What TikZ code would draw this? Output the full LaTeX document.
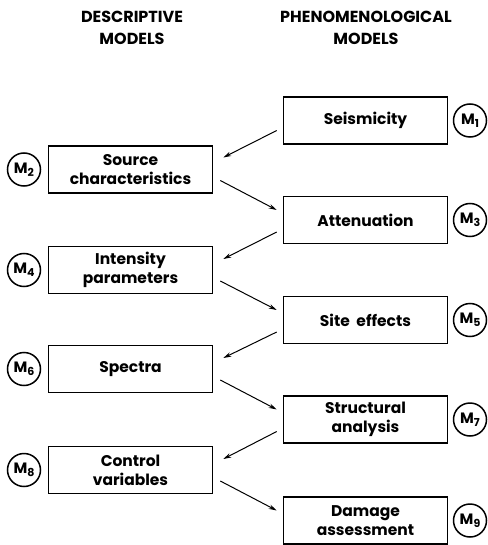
\documentclass[tikz,border=0pt]{standalone}
\usepackage{fontspec}
\setmainfont{Poppins}
\usetikzlibrary{arrows.meta,calc}
\tikzset{
  modelbox/.style={draw, line width=1.6pt, minimum width=164pt, minimum height=47pt, inner sep=0pt, align=center, font=\fontsize{15.5}{19}\selectfont\bfseries},
  tag/.style={draw, circle, line width=1.5pt, minimum size=33pt, inner sep=0pt, font=\fontsize{15}{16}\selectfont\bfseries},
  head/.style={align=center, font=\fontsize{16}{22}\selectfont\bfseries},
  flow/.style={line width=1pt, -{Stealth[length=8pt,width=4.5pt]}}
}
\newcommand{\mtag}[1]{M\raisebox{-0.2em}{\fontsize{11}{11}\selectfont\bfseries #1}}
\begin{document}
\begin{tikzpicture}[x=1pt,y=-1pt]
\useasboundingbox (0,0) rectangle (487,545);
\node[head] (hd) at (132,28) {DESCRIPTIVE\\MODELS};
\node[head] (hp) at (366,28) {PHENOMENOLOGICAL\\MODELS};

\node[modelbox] (r1) at (365.5,120.5) {Seismicity};
\node[modelbox] (r2) at (365.5,220) {Attenuation};
\node[modelbox] (r3) at (365.5,320) {Site\ \ effects};
\node[modelbox] (r4) at (365.5,419.5) {Structural\\analysis};
\node[modelbox] (r5) at (365.5,520.5) {Damage\\assessment};

\node[modelbox] (l1) at (130.5,169.5) {Source\\characteristics};
\node[modelbox] (l2) at (130.5,270) {Intensity\\parameters};
\node[modelbox] (l3) at (130.5,369) {Spectra};
\node[modelbox] (l4) at (130.5,470) {Control\\variables};

\node[tag] (m1) at (470,120.5) {\mtag{1}};
\node[tag] (m3) at (470,220) {\mtag{3}};
\node[tag] (m5) at (470,320) {\mtag{5}};
\node[tag] (m7) at (470,419.5) {\mtag{7}};
\node[tag] (m9) at (470,520.5) {\mtag{9}};
\node[tag] (m2) at (24,169.5) {\mtag{2}};
\node[tag] (m4) at (24,270) {\mtag{4}};
\node[tag] (m6) at (24,369) {\mtag{6}};
\node[tag] (m8) at (24,470) {\mtag{8}};

\draw[flow] ($(r1.west)+(-6,10)$) -- ($(l1.east)+(10,-12)$);
\draw[flow] ($(l1.east)+(7,11)$) -- ($(r2.west)+(-6,-10)$);
\draw[flow] ($(r2.west)+(-6,12)$) -- ($(l2.east)+(10,-11)$);
\draw[flow] ($(l2.east)+(7,11)$) -- ($(r3.west)+(-6,-10)$);
\draw[flow] ($(r3.west)+(-6,12)$) -- ($(l3.east)+(10,-11)$);
\draw[flow] ($(l3.east)+(7,11)$) -- ($(r4.west)+(-6,-10)$);
\draw[flow] ($(r4.west)+(-6,12)$) -- ($(l4.east)+(10,-11)$);
\draw[flow] ($(l4.east)+(7,11)$) -- ($(r5.west)+(-6,-10)$);
\end{tikzpicture}
\end{document}
